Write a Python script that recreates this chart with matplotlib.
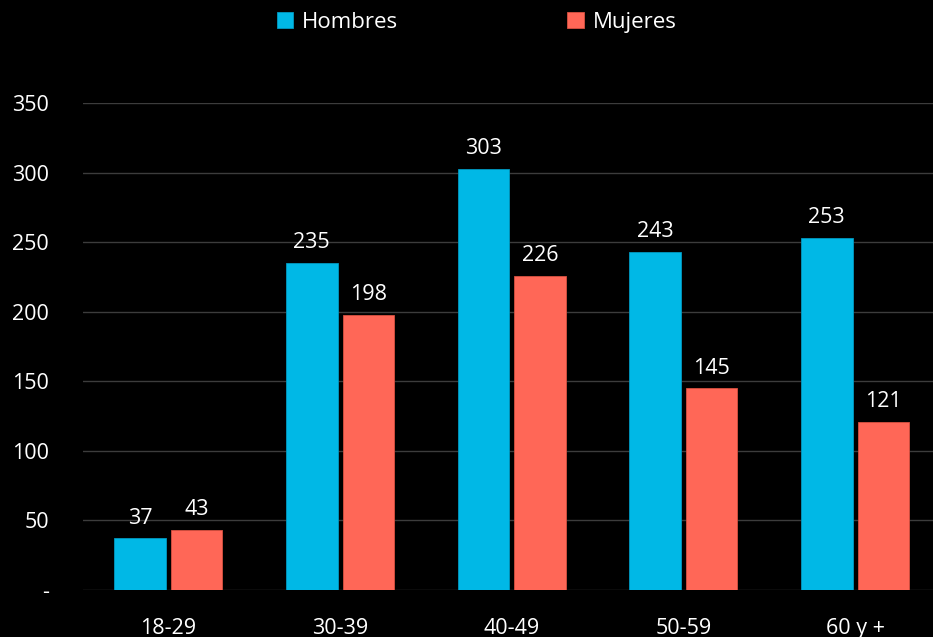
import numpy as np
import matplotlib.pyplot as plt
from matplotlib.ticker import FixedLocator, FuncFormatter

plt.rcParams['font.family'] = ['Open Sans', 'DejaVu Sans']

grupos = ['18-29', '30-39', '40-49', '50-59', '60 y +']
hombres = [37, 235, 303, 243, 253]
mujeres = [43, 198, 226, 145, 121]

c_h = '#00B8E6'
c_m = '#FF6757'
bg = 'black'

fig = plt.figure(figsize=(9.33, 6.37), dpi=100, facecolor=bg)
ax = fig.add_axes([0.0885, 0.074, 0.920, 0.764], facecolor=bg)

x = np.arange(len(grupos))
w = 0.30
off = 0.165
b1 = ax.bar(x - off, hombres, w, color=c_h, edgecolor='#0098c0', linewidth=0.6,
            label='Hombres', zorder=3)
b2 = ax.bar(x + off, mujeres, w, color=c_m, edgecolor='#d85040', linewidth=0.6,
            label='Mujeres', zorder=3)

for bars, vals in ((b1, hombres), (b2, mujeres)):
    for r, v in zip(bars, vals):
        ax.text(r.get_x() + r.get_width() / 2, v + 7, str(v), ha='center', va='bottom',
                color='white', fontsize=15.5)

ax.set_ylim(0, 350)
ax.set_xlim(-0.5, 4.5)
ax.yaxis.set_major_locator(FixedLocator(range(0, 351, 50)))
ax.yaxis.set_major_formatter(FuncFormatter(lambda v, p: '-' if v == 0 else f'{int(v)}'))
ax.set_xticks(x)
ax.set_xticklabels(grupos)
ax.tick_params(axis='both', colors='white', labelsize=15.5, length=0)
ax.tick_params(axis='y', pad=24)
ax.tick_params(axis='x', pad=20)
ax.grid(axis='y', color='#3c3c3c', linewidth=1, zorder=0)
for s in ax.spines.values():
    s.set_visible(False)

leg = fig.legend(handles=[b1, b2], loc='center', bbox_to_anchor=(0.511, 0.965), ncol=2,
                 frameon=False, fontsize=16, labelcolor='white', handlelength=0.75,
                 handleheight=0.75, handletextpad=0.4, columnspacing=7.6)

fig.savefig('out.png', dpi=100, facecolor=bg)
